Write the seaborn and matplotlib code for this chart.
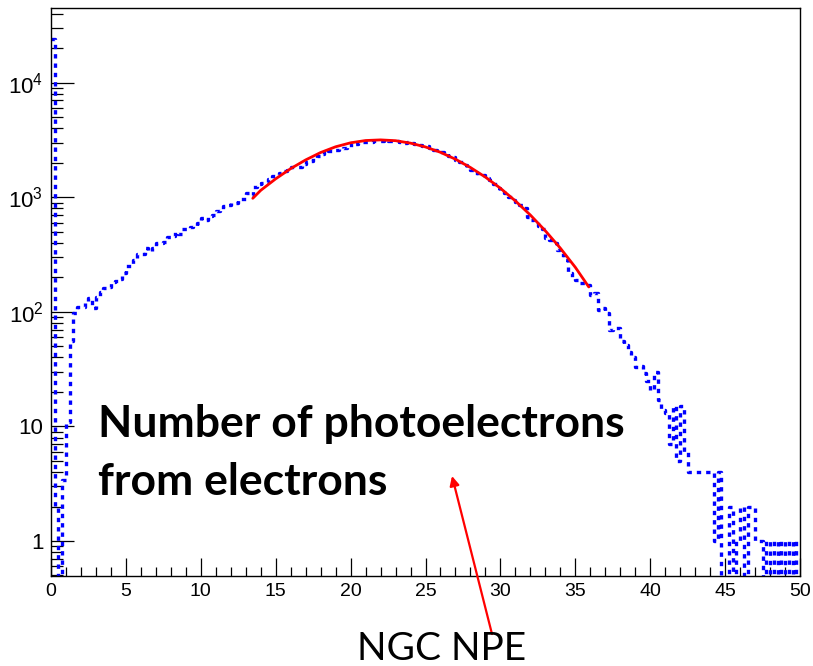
import numpy as np
import pandas as pd
import matplotlib
matplotlib.use("Agg")
import matplotlib.pyplot as plt
import seaborn as sns
from matplotlib.ticker import LogLocator, NullFormatter, MultipleLocator

# ---------------- data ----------------
# counts per 0.25-wide bin from 0 to 50 (200 bins)
counts = [
    24000, 2, 0, 3.4, 11, 56, 97, 110,            # 0-2
    110, 121, 131, 108, 135, 150, 160, 164,       # 2-4
    181, 186, 192, 217, 250, 250, 282, 318,       # 4-6
    318, 358, 337, 358, 396, 400, 405, 447,       # 6-8
    457, 494, 475, 525, 530, 546, 560, 592,       # 8-10
    655, 640, 681, 700, 754, 790, 833, 850,       # 10-12
    885, 900, 959, 960, 1082, 1040, 1220, 1295,   # 12-14
    1320, 1350, 1432, 1520, 1560, 1616, 1680, 1716,  # 14-16
    1823, 1850, 1823, 1960, 2020, 2060, 2200, 2300,  # 16-18
    2380, 2565, 2520, 2600, 2610, 2620, 2700, 2722,  # 18-20
    2950, 2900, 2980, 3020, 3030, 3050, 3070, 3100,  # 20-22
    3080, 3140, 3120, 3070, 3100, 3050, 3000, 3020,  # 22-24
    2950, 2890, 2860, 2800, 2780, 2680, 2600, 2510,  # 24-26
    2480, 2415, 2300, 2230, 2098, 2050, 1897, 1850,  # 26-28
    1720, 1616, 1580, 1550, 1480, 1403, 1300, 1197,  # 28-30
    1150, 1082, 1000, 940, 903, 850, 800, 668,    # 30-32
    640, 604, 560, 530, 438, 420, 396, 350,       # 32-34
    311, 282, 217, 200, 188, 180, 178, 170,       # 34-36
    140, 145, 103, 108, 97, 69, 72, 72,           # 36-38
    56, 51, 45, 40, 33, 34, 29, 25,               # 38-40
    21, 30, 17, 14, 13, 7, 15, 5,                 # 40-42
    15, 6, 4, 4, 4, 4, 4, 4,                      # 42-44
    4, 1, 4, 0, 0, 2, 0, 1,                       # 44-46
    2, 0, 2, 2, 1, 1, 0, 1,                       # 46-48
    0, 1, 0, 1, 0, 1, 0, 1,                       # 48-50
]
x_min, x_max = 0, 50

# fitted curve
fit_x = [13.47, 14, 15, 16, 17, 18, 19, 20, 21, 22, 23, 24, 25, 26, 27, 28,
         29, 30, 31, 32, 33, 34, 35, 35.9]
fit_y = [980, 1150, 1450, 1780, 2120, 2460, 2760, 2990, 3130, 3170, 3120, 2970,
         2750, 2470, 2150, 1820, 1500, 1200, 930, 700, 510, 360, 245, 165]

x_ticks = [0, 5, 10, 15, 20, 25, 30, 35, 40, 45, 50]
y_ticks = [1, 10, 100, 1000, 10000]
y_tick_labels = ["1", "10", r"$10^{2}$", r"$10^{3}$", r"$10^{4}$"]

annotation_text = "Number of photoelectrons\nfrom electrons"
axis_title = "NGC NPE"

# ---------------- plot ----------------
sns.set_theme(style="white")
plt.rcParams["font.family"] = ["Liberation Sans", "DejaVu Sans"]
plt.rcParams["mathtext.fontset"] = "custom"
plt.rcParams["mathtext.rm"] = "Liberation Sans"
plt.rcParams["mathtext.it"] = "Liberation Sans"

W, H = 813, 666
fig = plt.figure(figsize=(W / 100, H / 100), dpi=100)
ax = fig.add_axes([51 / W, 1 - 576 / H, (800 - 51) / W, (576 - 8) / H])

n = len(counts)
edges = np.linspace(x_min, x_max, n + 1)
hist_df = pd.DataFrame({"npe": (edges[:-1] + edges[1:]) / 2,
                        "count": np.asarray(counts, dtype=float)})

sns.histplot(data=hist_df, x="npe", weights="count", bins=n,
             binrange=(x_min, x_max), element="step",
             fill=False, color="#0000ff", linewidth=2.4,
             linestyle=(0, (1.3, 1.5)), ax=ax)
sns.lineplot(x=fit_x, y=fit_y, color="#ff0000", linewidth=2.0, ax=ax)

ax.set_yscale("log")
ax.set_xlim(x_min, x_max)
ax.set_ylim(0.495, 44900)

ax.set_xticks(x_ticks)
ax.set_xticklabels([str(t) for t in x_ticks], fontsize=14)
ax.xaxis.set_minor_locator(MultipleLocator(1))
ax.set_yticks(y_ticks)
ax.set_yticklabels(y_tick_labels, fontsize=16)
ax.yaxis.set_minor_locator(LogLocator(base=10, subs=np.arange(2, 10)))
ax.yaxis.set_minor_formatter(NullFormatter())

ax.tick_params(axis="x", which="major", direction="in", length=13, width=0.9,
               color="black", pad=5, labelcolor="black")
ax.tick_params(axis="x", which="minor", direction="in", length=6.5, width=0.9,
               color="black")
ax.tick_params(axis="y", which="major", direction="in", length=16.5, width=0.9,
               color="black", pad=5.5, labelcolor="black")
ax.tick_params(axis="y", which="minor", direction="in", length=8.5, width=0.9,
               color="black")
ax.tick_params(top=False, right=False, bottom=True, left=True, which="both")
for s in ax.spines.values():
    s.set_color("black")
    s.set_linewidth(1.0)
ax.set_xlabel("")
ax.set_ylabel("")
ax.grid(False)

# annotation text
fig.text(98 / W, 1 - 495 / H, annotation_text, fontsize=32, fontweight="bold",
         family=["Lato", "DejaVu Sans"], ha="left", va="baseline",
         linespacing=1.54, color="black")
fig.text(442 / W, 1 - 660 / H, axis_title, fontsize=28,
         family=["Lato", "DejaVu Sans"], ha="center", va="baseline", color="black")

ax.annotate("", xy=(452, H - 476), xycoords="figure pixels",
            xytext=(492, H - 634), textcoords="figure pixels",
            arrowprops=dict(arrowstyle="-|>", color="#ff0000", lw=1.6,
                            mutation_scale=14, shrinkA=0, shrinkB=0),
            annotation_clip=False)

fig.savefig("out.png", dpi=100)
